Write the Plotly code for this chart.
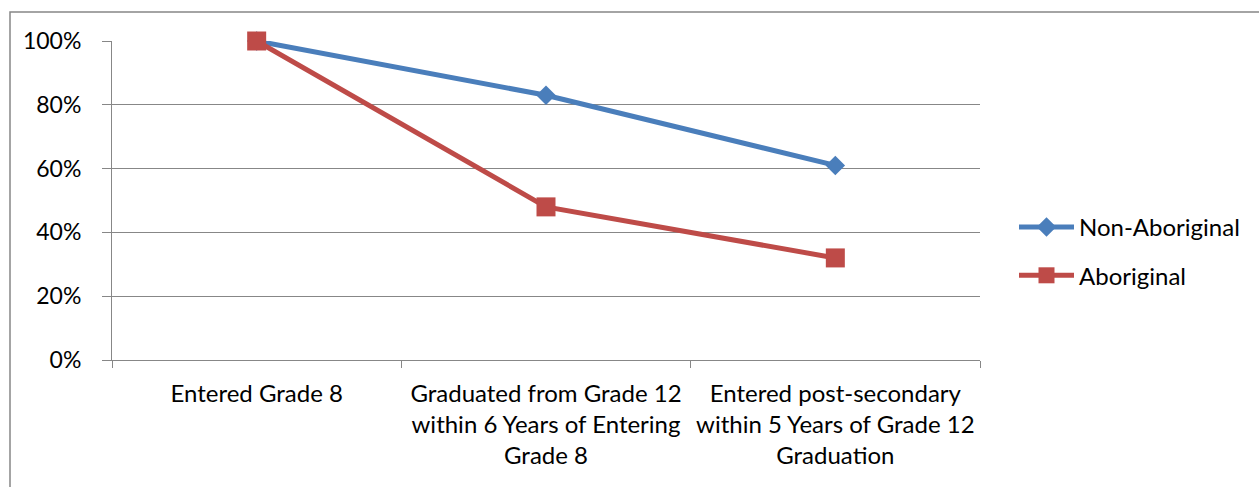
import plotly.graph_objects as go

categories = [
    "Entered Grade 8",
    "Graduated from Grade 12<br>within 6 Years of Entering<br>Grade 8",
    "Entered post-secondary<br>within 5 Years of Grade 12<br>Graduation",
]
non_aboriginal = [1.00, 0.83, 0.61]
aboriginal = [1.00, 0.48, 0.32]
y_ticks = [0, 0.2, 0.4, 0.6, 0.8, 1.0]
y_tick_labels = ["0%", "20%", "40%", "60%", "80%", "100%"]

FONT = "Lato"
FS = 24
GRID = "#878787"

fig = go.Figure()
fig.add_trace(go.Scatter(
    x=categories, y=non_aboriginal, name="Non-Aboriginal", mode="lines+markers",
    line=dict(color="#4A7EBB", width=5),
    marker=dict(symbol="diamond", size=15, color="#4A7EBB"),
    legendgroup="a", cliponaxis=False,
))
fig.add_trace(go.Scatter(
    x=categories, y=aboriginal, name="Aboriginal", mode="lines+markers",
    line=dict(color="#BE4B48", width=5),
    marker=dict(symbol="square", size=19, color="#BE4B48"),
    legendgroup="b", cliponaxis=False,
))

W, H = 1259, 487
L, R, T, B = 112, 980, 41, 360
pw, ph = R - L, B - T

fig.update_layout(
    width=W, height=H,
    margin=dict(l=L, r=W - R, t=T, b=H - B),
    paper_bgcolor="white", plot_bgcolor="white",
    font=dict(family=FONT, size=FS, color="black"),
    showlegend=True,
    legend=dict(x=(1014 - L) / pw, y=1 - (205 - T) / ph, xanchor="left", yanchor="top",
                font=dict(size=FS), tracegroupgap=14, itemwidth=55,
                bgcolor="rgba(0,0,0,0)"),
    xaxis=dict(
        type="category", tickson="boundaries", ticks="outside", ticklen=7,
        tickcolor=GRID, showline=True, linecolor=GRID, linewidth=1,
        showgrid=False, ticklabelstandoff=12, tickangle=0,
        range=[-0.5, 2.5],
    ),
    yaxis=dict(
        range=[0, 1], tickvals=y_ticks, ticktext=y_tick_labels,
        ticks="outside", ticklen=9, tickcolor=GRID,
        showline=True, linecolor=GRID, linewidth=1,
        showgrid=True, gridcolor=GRID, gridwidth=1,
        ticklabelstandoff=16, zeroline=False,
        tickfont=dict(size=23),
    ),
    shapes=[dict(
        type="rect", xref="paper", yref="paper",
        x0=(10 - L) / pw, x1=(1300 - L) / pw,
        y0=-(520 - B) / ph, y1=1 + (T - 12) / ph,
        line=dict(color=GRID, width=1.5), layer="below",
    )],
)

fig.write_html("out.html")
